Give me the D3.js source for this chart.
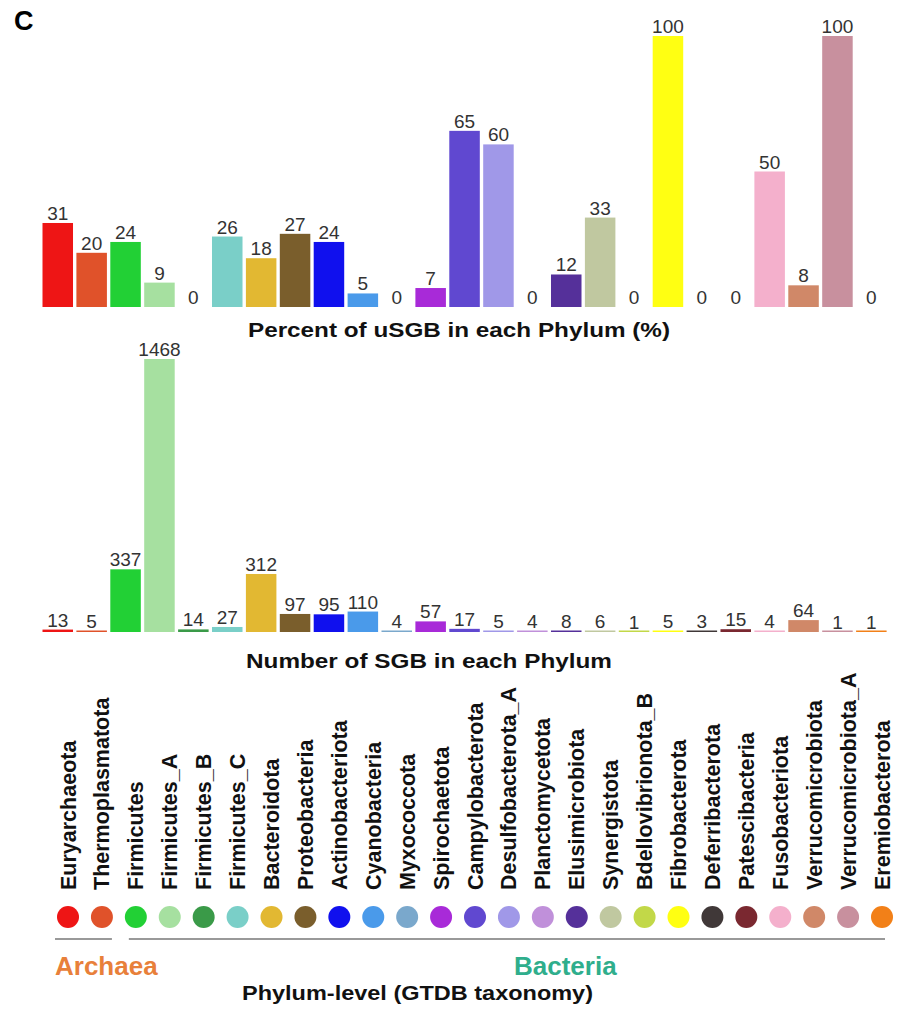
<!DOCTYPE html>
<html>
<head>
<meta charset="utf-8">
<script src="https://cdn.jsdelivr.net/npm/d3@7"></script>
<style>
  body { margin: 0; background: #fff; }
  text { font-family: "Liberation Sans", Arial, sans-serif; }
  .val { font-size: 19px; fill: #333; }
  .title { font-size: 21px; font-weight: bold; fill: #111; }
  .phylum { font-size: 21.5px; font-weight: bold; fill: #111; }
</style>
</head>
<body>
<script>
var phyla = ["Euryarchaeota", "Thermoplasmatota", "Firmicutes", "Firmicutes_A", "Firmicutes_B",
    "Firmicutes_C", "Bacteroidota", "Proteobacteria", "Actinobacteriota", "Cyanobacteria",
    "Myxococcota", "Spirochaetota", "Campylobacterota", "Desulfobacterota_A", "Planctomycetota",
    "Elusimicrobiota", "Synergistota", "Bdellovibrionota_B", "Fibrobacterota", "Deferribacterota",
    "Patescibacteria", "Fusobacteriota", "Verrucomicrobiota", "Verrucomicrobiota_A", "Eremiobacterota"];
var pctUSGB = [31, 20, 24, 9, 0, 26, 18, 27, 24, 5, 0, 7, 65, 60, 0, 12, 33, 0, 100, 0, 0, 50, 8, 100, 0];
var nSGB = [13, 5, 337, 1468, 14, 27, 312, 97, 95, 110, 4, 57, 17, 5, 4, 8, 6, 1, 5, 3, 15, 4, 64, 1, 1];
var colors = ["#ee1515", "#e0522a", "#22d035", "#a6e0a0", "#3a9a48", "#7acfc8", "#e2b832", "#7a5e2c",
    "#1010ee", "#4a9aea", "#7aa8cc", "#a82ad8", "#6048d0", "#a098e8", "#c090da", "#55309a",
    "#c0c8a0", "#c2d848", "#ffff12", "#403838", "#7a2830", "#f4b0cc", "#d08868", "#c8909e", "#f28018"];

var width = 897, height = 1013;

var svg = d3.select("body").append("svg")
    .attr("width", width)
    .attr("height", height);

var data = phyla.map(function(p, i) {
    return {phylum: p, pct: pctUSGB[i], n: nSGB[i], color: colors[i]};
});

var xScale = d3.scaleBand()
    .domain(phyla)
    .range([42.5, 886.6])
    .paddingInner(0.1)
    .paddingOuter(0);

// labels and dots sit a bit right of the bars, like in the figure
var xLabel = d3.scalePoint()
    .domain(phyla)
    .range([68, 882]);

svg.append("text")
    .attr("x", 14)
    .attr("y", 30)
    .style("font-size", "27px")
    .style("font-weight", "bold")
    .text("C");

function barPanel(key, yScale, minH) {
    var g = svg.append("g");
    g.selectAll(".bar")
        .data(data.filter(function(d) { return d[key] > 0; }))
        .enter()
        .append("rect")
        .attr("class", "bar")
        .attr("x", function(d) { return xScale(d.phylum); })
        .attr("width", xScale.bandwidth())
        .attr("y", function(d) { return Math.min(yScale(d[key]), yScale(0) - minH); })
        .attr("height", function(d) { return Math.max(yScale(0) - yScale(d[key]), minH); })
        .attr("fill", function(d) { return d.color; });

    g.selectAll(".val")
        .data(data)
        .enter()
        .append("text")
        .attr("class", "val")
        .attr("text-anchor", "middle")
        .attr("x", function(d) { return xScale(d.phylum) + xScale.bandwidth() / 2; })
        .attr("y", function(d) { return yScale(d[key]) - 3; })
        .text(function(d) { return d[key]; });
}

var yTop = d3.scaleLinear().domain([0, 100]).range([307, 36]);
var yBot = d3.scaleLinear().domain([0, d3.max(nSGB)]).range([632, 359]);

barPanel("pct", yTop, 0);
barPanel("n", yBot, 1.5);

svg.append("text")
    .attr("class", "title")
    .attr("x", 248)
    .attr("y", 337)
    .attr("textLength", 422)
    .attr("lengthAdjust", "spacingAndGlyphs")
    .text("Percent of uSGB in each Phylum (%)");

svg.append("text")
    .attr("class", "title")
    .attr("x", 246)
    .attr("y", 668)
    .attr("textLength", 366)
    .attr("lengthAdjust", "spacingAndGlyphs")
    .text("Number of SGB in each Phylum");

// phylum names, rotated
svg.selectAll(".phylum")
    .data(data)
    .enter()
    .append("text")
    .attr("class", "phylum")
    .attr("transform", function(d) { return "translate(" + (xLabel(d.phylum) + 7.5) + ",890) rotate(-90)"; })
    .text(function(d) { return d.phylum; });

svg.selectAll(".dot")
    .data(data)
    .enter()
    .append("circle")
    .attr("class", "dot")
    .attr("cx", function(d) { return xLabel(d.phylum); })
    .attr("cy", 917)
    .attr("r", 11)
    .attr("fill", function(d) { return d.color; });

// domain brackets
svg.append("line")
    .attr("x1", xLabel(phyla[0]) - 13).attr("x2", xLabel(phyla[1]) + 10)
    .attr("y1", 939).attr("y2", 939)
    .attr("stroke", "#999").attr("stroke-width", 2);
svg.append("line")
    .attr("x1", xLabel(phyla[2]) - 7).attr("x2", xLabel(phyla[24]) + 3)
    .attr("y1", 939).attr("y2", 939)
    .attr("stroke", "#999").attr("stroke-width", 2);

svg.append("text")
    .attr("x", 55)
    .attr("y", 975)
    .style("font-size", "26px")
    .style("font-weight", "bold")
    .attr("fill", "#e8803a")
    .text("Archaea");

svg.append("text")
    .attr("x", 514)
    .attr("y", 975)
    .style("font-size", "26px")
    .style("font-weight", "bold")
    .attr("fill", "#2fae8c")
    .text("Bacteria");

svg.append("text")
    .attr("class", "title")
    .attr("x", 242)
    .attr("y", 1000)
    .attr("textLength", 351)
    .attr("lengthAdjust", "spacingAndGlyphs")
    .text("Phylum-level (GTDB taxonomy)");
</script>
</body>
</html>
